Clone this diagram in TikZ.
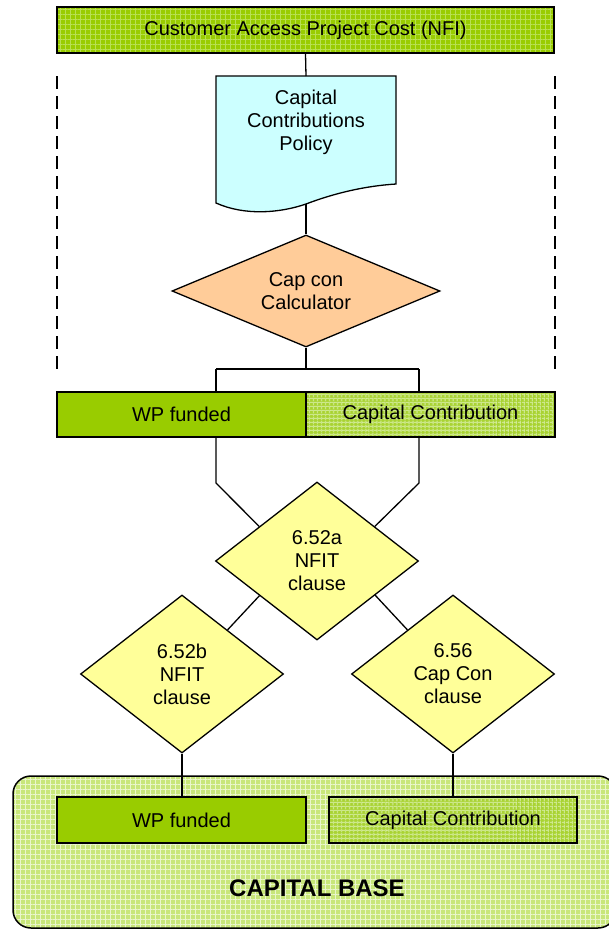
\documentclass[tikz,border=0pt]{standalone}
\usepackage{fontspec}
\setmainfont{Liberation Sans}
\usetikzlibrary{shapes.geometric,patterns.meta,calc}

\definecolor{leaf}{HTML}{99CC00}
\definecolor{leaflite}{HTML}{B9E052}
\definecolor{hatchbase}{HTML}{A9D332}
\definecolor{hatchline}{HTML}{CCE88A}
\definecolor{palebase}{HTML}{C8E67A}
\definecolor{paleline}{HTML}{EAF6CC}
\definecolor{policyfill}{HTML}{CCFFFF}
\definecolor{peach}{HTML}{FFCC99}
\definecolor{lemon}{HTML}{FFFF99}

\tikzset{
  label font/.style={font=\fontsize{20}{23}\selectfont, align=center},
  texture/.style n args={3}{
    preaction={fill=#1},
    preaction={pattern={Lines[angle=0,distance=#3,line width=1pt]}, pattern color=#2},
    preaction={pattern={Lines[angle=90,distance=#3,line width=1pt]}, pattern color=#2}},
  box/.style={rectangle, draw, line width=1.5pt, inner sep=0pt, label font},
  solidbox/.style={box, fill=leaf},
  hatchbox/.style={box, texture={hatchbase}{hatchline}{4pt}},
  topbox/.style={box, texture={leaf}{leaflite}{5pt}},
  decision/.style={diamond, draw, line width=1.3pt, inner sep=0pt, label font},
  clause/.style={decision, fill=lemon, aspect=1.285,
    minimum width=203pt, minimum height=158pt},
  link/.style={draw, line width=1.3pt},
  fence/.style={draw, line width=1.8pt, dash pattern=on 13pt off 7pt},
}

\begin{document}
\begin{tikzpicture}[x=1pt,y=-1pt]
\useasboundingbox (0,0) rectangle (609,930);

% capital base panel (runs off the right edge)
\path[draw, line width=1.5pt, rounded corners=18pt,
      texture={palebase}{paleline}{5pt}] (13,776) rectangle (616,928);
\node[font=\fontsize{24}{28}\selectfont\bfseries] (cbase) at (317,888) {CAPITAL BASE};

% top box
\node[topbox, minimum width=497pt, minimum height=46pt] (top) at (305.5,30)
  {Customer Access Project Cost (NFI)};

% dashed side fences
\coordinate (fl1) at (57,76);  \coordinate (fl2) at (57,369);
\coordinate (fr1) at (555,76); \coordinate (fr2) at (555,369);
\path[fence] (fl1) -- (fl2);
\path[fence] (fr1) -- (fr2);

% policy document
\coordinate (poltop) at (306,76);
\coordinate (polbot) at (306,204);
\path[draw, line width=1.3pt, fill=policyfill]
  (216,76) -- (396,76) -- (396,184)
  .. controls (365,186) and (335,193) .. (polbot)
  .. controls (280,213) and (245,216) .. (216,203) -- cycle;
\node[label font] (policy) at (306,122) {Capital\\Contributions\\Policy};

% calculator
\node[decision, fill=peach, aspect=2.393, minimum width=268pt,
      minimum height=112pt] (capcon) at (306,291) {Cap con\\Calculator};

% first split
\node[solidbox, minimum width=249pt, minimum height=45pt] (wp1) at (181.5,414.5) {WP funded};
\node[hatchbox, minimum width=249pt, minimum height=45pt] (cc1) at (430.5,414.5) {Capital Contribution};

% clauses
\node[clause] (na) at (317,561) {6.52a\\NFIT\\clause};
\node[clause] (nb) at (182,674) {6.52b\\NFIT\\clause};
\node[clause] (nc) at (453,674) {6.56\\Cap Con\\clause};

% capital base entries
\node[solidbox, minimum width=249pt, minimum height=46pt] (wp2) at (181.5,820) {WP funded};
\node[hatchbox, minimum width=248pt, minimum height=46pt] (cc2) at (453,820) {Capital Contribution};

% connectors
\path[link] (top.south) -- (poltop);
\path[link] (polbot) -- (capcon.north);

\coordinate (split) at (306,369);
\coordinate (jl) at (216,369);
\coordinate (jr) at (419,369);
\path[link] (capcon.south) -- (split);
\path[link] (jl) -- (jr);
\path[link] (jl) -- (jl |- wp1.north);
\path[link] (jr) -- (jr |- cc1.north);

\coordinate (kl) at (216,483);
\coordinate (kr) at (419,483);
\path[link] (kl |- wp1.south) -- (kl) -- ($(na.west)!0.434!(na.north)$);
\path[link] (kr |- cc1.south) -- (kr) -- ($(na.east)!0.434!(na.north)$);

\path[link] ($(na.west)!0.436!(na.south)$) -- ($(nb.north)!0.446!(nb.east)$);
\path[link] ($(na.east)!0.43!(na.south)$) -- ($(nc.west)!0.554!(nc.north)$);

\path[link] (nb.south) -- (nb.south |- wp2.north);
\path[link] (nc.south) -- (nc.south |- cc2.north);
\end{tikzpicture}
\end{document}
